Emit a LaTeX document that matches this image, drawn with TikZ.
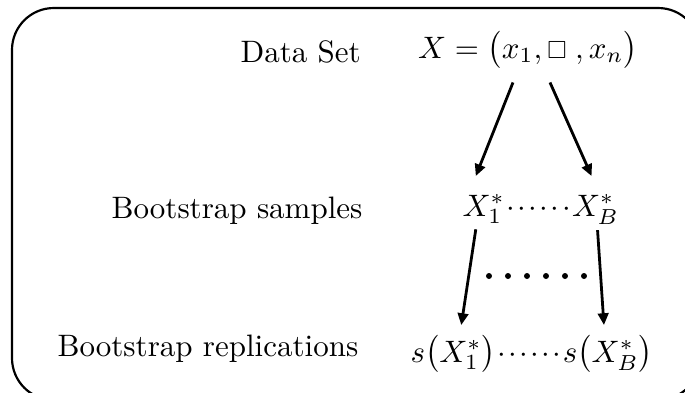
\documentclass[tikz,border=0pt]{standalone}
\usepackage{amssymb}
\usetikzlibrary{positioning}
\usetikzlibrary{calc}
\usetikzlibrary{arrows.meta}

\newcommand{\dotrow}{{\cdot}\mkern1.5mu{\cdot}\mkern1.5mu{\cdot}\mkern1.5mu{\cdot}\mkern1.5mu{\cdot}\mkern1.5mu{\cdot}}

\begin{document}
\begin{tikzpicture}[x=0.3226pt,y=-0.3226pt,
        txt/.style={inner sep=0pt,anchor=base west},
        arr/.style={-{Triangle[length=3.8pt,width=3.4pt]},line width=0.9pt}]
        \useasboundingbox (0,0) rectangle (685,392);
        \begin{scope}
            \clip (0,0) rectangle (685,392);
            \draw[line width=0.7pt,rounded corners=13.5pt] (12,8) rectangle (700,400);
        \end{scope}

        % row labels
        \node[txt] (dataset) at (240,62) {Data Set};
        \node[txt,anchor=base east] (samples) at (363,218) {Bootstrap samples};
        \node[txt] (replic) at (57,356) {Bootstrap replications};

        % formulas
        \node[txt,anchor=base] (data) at (528,58)
            {$X=\bigl(x_1,\scalebox{0.8}{$\square$}\;,x_n\bigr)$};
        \node[txt] (xone) at (462,216) {$X_1^*$};
        \node[txt] (sdots) at (xone.base east) {$\dotrow$};
        \node[txt] (xbee) at (sdots.base east) {$X_B^*$};
        \node[txt] (sone) at (410,362) {$s\bigl(X_1^*\bigr)$};
        \node[txt] (rdots) at (sone.base east) {$\dotrow$};
        \node[txt] (sbee) at (rdots.base east) {$s\bigl(X_B^*\bigr)$};

        \foreach \k in {0,...,5}
            \fill (489+19*\k,276) circle (3);

        \draw[arr] ($(data.south)+(-15,13)$) -- ($(xone.north)+(-8,-18)$);
        \draw[arr] ($(data.south)+(22,13)$) -- ($(xbee.north)+(-4,-18)$);
        \draw[arr] ($(xone.south)+(-8,5)$) -- ($(sone.north)+(8,-10)$);
        \draw[arr] ($(xbee.south)+(2,5)$) -- ($(sbee.north)+(-4,-10)$);
\end{tikzpicture}
\end{document}
